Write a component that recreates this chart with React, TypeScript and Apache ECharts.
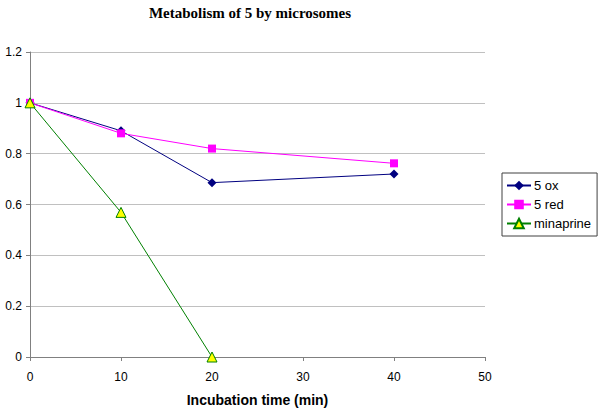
import React, { useEffect, useRef } from "react";
import * as echarts from "echarts";

const times = [0, 10, 20, 40];
const oxValues = [1, 0.89, 0.686, 0.72];
const redValues = [1, 0.88, 0.82, 0.762];
const minaTimes = [0, 10, 20];
const minaValues = [1, 0.569, 0];

export default function App() {
  const ref = useRef<HTMLDivElement>(null);
  useEffect(() => {
    document.body.style.margin = "0";
    const chart = echarts.init(ref.current!, null, { renderer: "svg" });
    const font = "Liberation Sans, Arial, sans-serif";
    chart.setOption({
      animation: false,
      backgroundColor: "#fff",
      title: {
        text: "Metabolism of 5 by microsomes",
        left: 245,
        top: 0,
        textAlign: "center",
        textStyle: { fontFamily: "Liberation Serif, Times New Roman, serif", fontWeight: "bold", fontSize: 15, color: "#000" },
      },
      grid: { left: 30, right: 115, top: 52, bottom: 55 },
      legend: {
        orient: "vertical",
        left: 502,
        top: 173,
        padding: [6, 6, 6, 4],
        itemGap: 6,
        itemWidth: 24,
        itemHeight: 12,
        borderColor: "#404040",
        borderWidth: 1,
        backgroundColor: "#fff",
        textStyle: { fontFamily: font, fontSize: 13, color: "#000", padding: [0, 0, 0, -2] },
        data: ["5 ox", "5 red", "minaprine"],
      },
      xAxis: {
        type: "value",
        min: 0,
        max: 50,
        interval: 10,
        name: "Incubation time (min)",
        nameLocation: "middle",
        nameGap: 36,
        nameTextStyle: { fontFamily: font, fontWeight: "bold", fontSize: 14, color: "#000" },
        axisLine: { lineStyle: { color: "#808080", width: 1 } },
        axisTick: { show: true, length: 4, lineStyle: { color: "#808080" } },
        axisLabel: { fontFamily: font, fontSize: 12, color: "#000", margin: 14 },
        splitLine: { show: false },
      },
      yAxis: {
        type: "value",
        min: 0,
        max: 1.2,
        interval: 0.2,
        axisLine: { show: true, lineStyle: { color: "#808080", width: 1 } },
        axisTick: { show: true, length: 4, lineStyle: { color: "#808080" } },
        axisLabel: { fontFamily: font, fontSize: 12, color: "#000", margin: 8 },
        splitLine: { show: true, lineStyle: { color: "#c0c0c0", width: 1 } },
      },
      series: [
        {
          name: "5 ox",
          type: "line",
          data: times.map((t, i) => [t, oxValues[i]]),
          symbol: "diamond",
          symbolSize: 9,
          lineStyle: { color: "#000080", width: 1 },
          itemStyle: { color: "#000080" },
        },
        {
          name: "5 red",
          type: "line",
          data: times.map((t, i) => [t, redValues[i]]),
          symbol: "rect",
          symbolSize: 8,
          lineStyle: { color: "#ff00ff", width: 1 },
          itemStyle: { color: "#ff00ff" },
        },
        {
          name: "minaprine",
          type: "line",
          data: minaTimes.map((t, i) => [t, minaValues[i]]),
          symbol: "triangle",
          symbolSize: 10,
          lineStyle: { color: "#008000", width: 1 },
          itemStyle: { color: "#ffff00", borderColor: "#008000", borderWidth: 1 },
        },
      ],
    });
    return () => chart.dispose();
  }, []);
  return <div ref={ref} style={{ width: 600, height: 412 }} />;
}
